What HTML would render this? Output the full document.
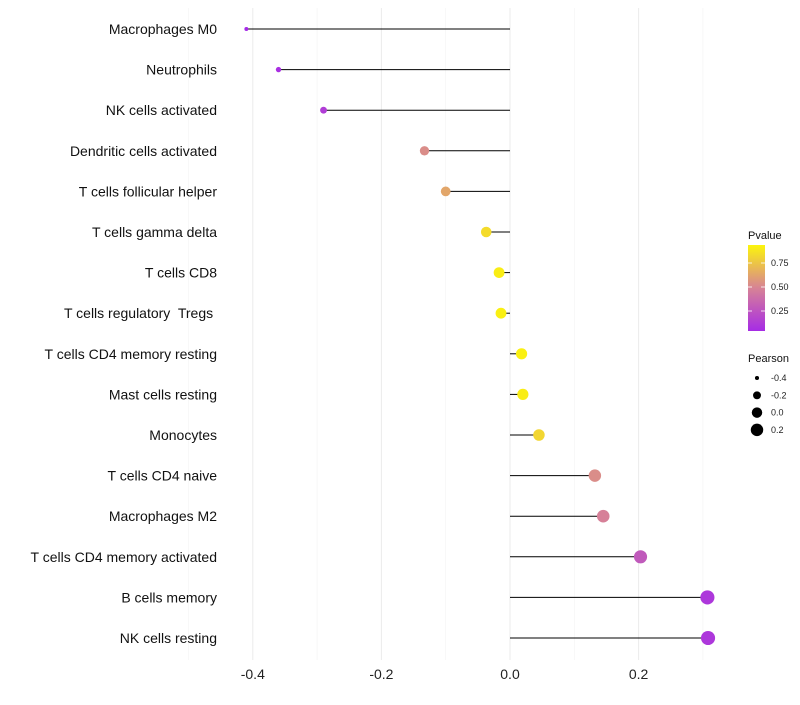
<!DOCTYPE html>
<html><head><meta charset="utf-8"><style>
body{margin:0;background:#fff;font-family:"Liberation Sans",sans-serif}
text{white-space:pre}
</style></head><body>
<svg id="chart" width="800" height="700" xmlns="http://www.w3.org/2000/svg"></svg>
<script>
const categories=["Macrophages M0","Neutrophils","NK cells activated","Dendritic cells activated","T cells follicular helper","T cells gamma delta","T cells CD8","T cells regulatory  Tregs ","T cells CD4 memory resting","Mast cells resting","Monocytes","T cells CD4 naive","Macrophages M2","T cells CD4 memory activated","B cells memory","NK cells resting"];
const pearson=[-0.41,-0.36,-0.29,-0.133,-0.10,-0.037,-0.017,-0.014,0.018,0.02,0.045,0.132,0.145,0.203,0.307,0.308];
const pvalue=[0.05,0.08,0.15,0.55,0.65,0.86,0.93,0.94,0.94,0.93,0.84,0.55,0.5,0.3,0.12,0.12];
const xTicks=[-0.4,-0.2,0.0,0.2];
const xTickLabels=["-0.4","-0.2","0.0","0.2"];
const pTicks=[0.25,0.5,0.75];
const pTickLabels=["0.25","0.50","0.75"];
const sizeTicks=[-0.4,-0.2,0.0,0.2];
const sizeTickLabels=["-0.4","-0.2","0.0","0.2"];

const NS="http://www.w3.org/2000/svg";
const svg=document.getElementById('chart');
function X(v){return 510+v*643;}
function Y(i){return 29+i*40.6;}
function R(v){return Math.sqrt(4+(v+0.41)/0.72*46);}
function col(p){
  const stops=[[0,[160,32,240]],[0.5,[214,128,152]],[1,[255,255,0]]];
  let a=stops[0],b=stops[1];if(p>0.5){a=stops[1];b=stops[2];}
  const t=Math.max(0,Math.min(1,(p-a[0])/(b[0]-a[0])));
  const c=a[1].map((v,k)=>Math.round(v+(b[1][k]-v)*t));
  return `rgb(${c[0]},${c[1]},${c[2]})`;
}
function mk(tag,attrs,text){const e=document.createElementNS(NS,tag);for(const k in attrs)e.setAttribute(k,attrs[k]);if(text!==undefined)e.textContent=text;svg.appendChild(e);return e;}
[-0.5,-0.3,-0.1,0.1,0.3].forEach(v=>{const l=mk('line',{x1:X(v),x2:X(v),y1:8,y2:660,stroke:'#f3f3f3','stroke-width':0.6});

});
xTicks.forEach((v,i)=>{const l=mk('line',{x1:X(v),x2:X(v),y1:8,y2:660,stroke:'#ebebeb','stroke-width':1});


const t=mk('text',{x:X(v),y:679,'text-anchor':'middle','font-size':14,fill:'#222'},xTickLabels[i]);

});
categories.forEach((c,i)=>{
  const t=mk('text',{x:217,y:Y(i)+5,'text-anchor':'end','font-size':14,fill:'#111'},c);
  
  
  const l=mk('line',{x1:X(0),x2:X(pearson[i]),y1:Y(i),y2:Y(i),stroke:'#000','stroke-width':1});
  
  
  const p=mk('circle',{cx:X(pearson[i]),cy:Y(i),r:R(pearson[i]),fill:col(pvalue[i])});
  
  
});
const defs=mk('defs',{});
const g=document.createElementNS(NS,'linearGradient');g.setAttribute('id','pg');g.setAttribute('x1',0);g.setAttribute('y1',1);g.setAttribute('x2',0);g.setAttribute('y2',0);
defs.appendChild(g);
for(let k=0;k<=10;k++){const p=0.06+0.9*k/10;const s=document.createElementNS(NS,'stop');s.setAttribute('offset',k/10);s.setAttribute('stop-color',col(p));g.appendChild(s);}
function PY(p){return 335-p*96;}
const lt=mk('text',{x:748,y:239,'font-size':11,fill:'#111'},'Pvalue');


const cb=mk('rect',{x:748,y:245,width:17,height:86,fill:'url(#pg)'});


pTicks.forEach((p,i)=>{mk('line',{x1:748,x2:752,y1:PY(p),y2:PY(p),stroke:'#fff','stroke-width':0.8});mk('line',{x1:761,x2:765,y1:PY(p),y2:PY(p),stroke:'#fff','stroke-width':0.8});
const t=mk('text',{x:771,y:PY(p)+3,'font-size':9,fill:'#222'},pTickLabels[i]);

});
const st=mk('text',{x:748,y:362,'font-size':11,fill:'#111'},'Pearson');


sizeTicks.forEach((v,i)=>{const y=378+i*17.3;
const c=mk('circle',{cx:757,cy:y,r:R(v)*0.95,fill:'#000'});


const t=mk('text',{x:771,y:y+3,'font-size':9,fill:'#222'},sizeTickLabels[i]);

});
</script>
</body></html>
